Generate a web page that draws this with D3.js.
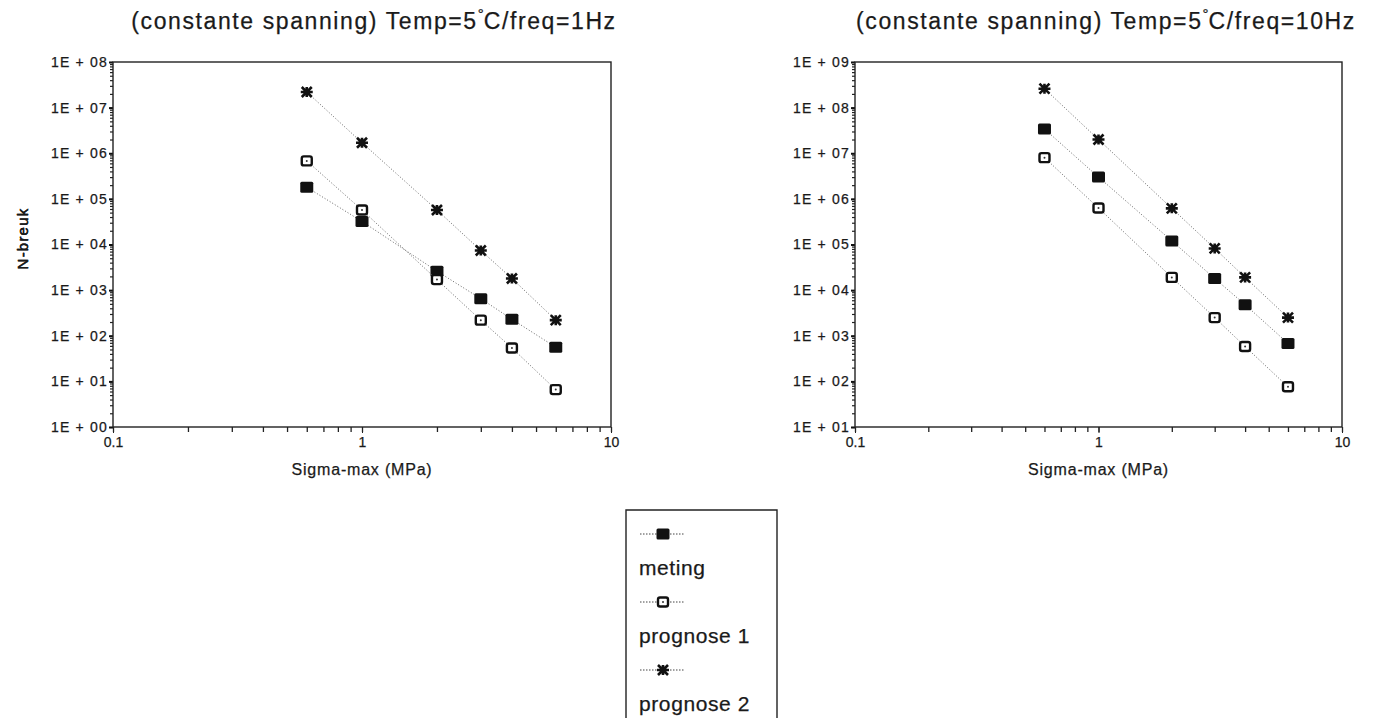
<!DOCTYPE html>
<html>
<head>
<meta charset="utf-8">
<script src="https://cdn.jsdelivr.net/npm/d3@7"></script>
<style>
  body { margin: 0; background: #fff; }
  text { font-family: Arial, "Liberation Sans", sans-serif; fill: #1a1a1a; stroke: #1a1a1a; stroke-width: 0.25; }
</style>
</head>
<body>
<div id="chart"></div>
<script>
var svgWidth = 1378;
var svgHeight = 718;

// sigma-max values (MPa), same for both charts
var sigma = [0.6, 1, 2, 3, 4, 6];

// 5 C / 1 Hz
var meting1Hz = [1.8e5, 3.2e4, 2.6e3, 650, 230, 56];
var prognose1_1Hz = [6.8e5, 5.7e4, 1.7e3, 220, 54, 6.6];
var prognose2_1Hz = [2.2e7, 1.7e6, 5.7e4, 7.4e3, 1.8e3, 220];

// 5 C / 10 Hz
var meting10Hz = [3.4e7, 3.0e6, 1.2e5, 1.8e4, 4.8e3, 680];
var prognose1_10Hz = [8e6, 6.3e5, 1.9e4, 2.5e3, 580, 76];
var prognose2_10Hz = [2.6e8, 2.0e7, 6.2e5, 8.2e4, 1.9e4, 2.5e3];

var seriesNames = ["meting", "prognose 1", "prognose 2"];
var xTickLabels = ["0.1", "1", "10"];

var svg = d3.select("#chart")
    .append("svg")
    .attr("width", svgWidth)
    .attr("height", svgHeight);

// marker drawing
function drawMarker(g, type, cx, cy) {
    if (type == 0) {
        g.append("rect")
            .attr("x", cx - 6.5).attr("y", cy - 5.5)
            .attr("width", 13).attr("height", 11)
            .attr("rx", 1.5)
            .attr("fill", "#111");
    } else if (type == 1) {
        g.append("rect")
            .attr("x", cx - 5).attr("y", cy - 4.5)
            .attr("width", 10).attr("height", 9)
            .attr("rx", 2)
            .attr("fill", "#fff")
            .attr("stroke", "#111")
            .attr("stroke-width", 2.4);
        g.append("circle")
            .attr("cx", cx).attr("cy", cy)
            .attr("r", 1)
            .attr("fill", "#333");
    } else {
        var s = 5;
        g.append("path")
            .attr("d", `M${cx - s},${cy - s}L${cx + s},${cy + s}M${cx - s},${cy + s}L${cx + s},${cy - s}M${cx - s - 1},${cy}L${cx + s + 1},${cy}M${cx},${cy - s}L${cx},${cy + s}`)
            .attr("stroke", "#111")
            .attr("stroke-width", 2.6);
    }
}

function logTicks(lo, hi) {
    var t = [];
    for (var e = Math.round(Math.log10(lo)); e < Math.round(Math.log10(hi)); e++) {
        for (var m = 1; m < 10; m++) t.push(m * Math.pow(10, e));
    }
    t.push(hi);
    return t;
}

function drawChart(cfg) {
    var width = cfg.width;
    var height = cfg.height;

    var g = svg.append("g")
        .attr("transform", `translate(${cfg.left}, ${cfg.top})`);

    var x = d3.scaleLog().domain([0.1, 10]).range([0, width]);
    var y = d3.scaleLog().domain(cfg.yDomain).range([height, 0]);

    // minor ticks
    var xMinor = logTicks(0.1, 10);
    var yMinor = logTicks(cfg.yDomain[0], cfg.yDomain[1]);

    g.append("g")
        .attr("transform", `translate(0, ${height})`)
        .call(d3.axisBottom(x).tickValues(xMinor).tickSize(5).tickFormat(""))
        .call(a => a.select(".domain").remove())
        .selectAll("line").attr("stroke", "#222").attr("stroke-width", 1.3);

    g.append("g")
        .call(d3.axisLeft(y).tickValues(yMinor).tickSize(3).tickFormat(""))
        .call(a => a.select(".domain").remove())
        .selectAll("line").attr("stroke", "#222").attr("stroke-width", 1.2);

    // major ticks + labels
    var xMajor = [0.1, 1, 10];
    g.append("g")
        .attr("transform", `translate(0, ${height})`)
        .call(d3.axisBottom(x).tickValues(xMajor).tickSize(6).tickPadding(4)
            .tickFormat((d, i) => xTickLabels[i]))
        .call(a => a.select(".domain").remove())
        .call(a => a.selectAll("text").attr("font-size", 14).attr("fill", "#1a1a1a"))
        .selectAll("line").attr("stroke", "#222");

    var yMajor = [];
    for (var e = Math.log10(cfg.yDomain[0]); e <= Math.log10(cfg.yDomain[1]); e++) yMajor.push(Math.pow(10, e));
    g.append("g")
        .call(d3.axisLeft(y).tickValues(yMajor).tickSize(4).tickPadding(1)
            .tickFormat(d => "1E + " + d3.format("02d")(Math.round(Math.log10(d)))))
        .call(a => a.select(".domain").remove())
        .call(a => a.selectAll("text").attr("font-size", 14).attr("letter-spacing", 1.2).attr("fill", "#1a1a1a"))
        .selectAll("line").attr("stroke", "#111").attr("stroke-width", 2);

    // frame
    g.append("rect")
        .attr("width", width)
        .attr("height", height)
        .attr("fill", "none")
        .attr("stroke", "#222")
        .attr("stroke-width", 1.4);

    // series
    var line = d3.line()
        .x(d => x(d[0]))
        .y(d => y(d[1]));

    cfg.series.forEach(function (vals, si) {
        var pts = sigma.map((s, i) => [s, vals[i]]);
        g.append("path")
            .datum(pts)
            .attr("d", line)
            .attr("fill", "none")
            .attr("stroke", "#666")
            .attr("stroke-width", 1)
            .attr("stroke-dasharray", "1,2");
        pts.forEach(p => drawMarker(g, si, x(p[0]), y(p[1])));
    });

    // titles
    var title = svg.append("text")
        .attr("x", cfg.titleX)
        .attr("y", 29)
        .attr("text-anchor", "middle")
        .attr("font-size", 23)
        .attr("letter-spacing", 1.6);
    title.append("tspan").text("(constante spanning) Temp=5");
    title.append("tspan").attr("dy", -10).attr("font-size", 15).attr("letter-spacing", 0).text("°");
    title.append("tspan").attr("dy", 10).text("C/freq=" + cfg.freq);

    g.append("text")
        .attr("x", width / 2)
        .attr("y", height + 48)
        .attr("text-anchor", "middle")
        .attr("font-size", 16)
        .attr("letter-spacing", 0.8)
        .text("Sigma-max (MPa)");

    g.append("text")
        .attr("transform", "rotate(-90)")
        .attr("x", -height / 2 + 6)
        .attr("y", -cfg.left + 28)
        .attr("text-anchor", "middle")
        .attr("font-size", 15)
        .attr("letter-spacing", 1.2)
        .text("N-breuk");
}

drawChart({
    left: 113, top: 62, width: 498, height: 365, titleX: 374,
    yDomain: [1, 1e8], freq: "1Hz",
    series: [meting1Hz, prognose1_1Hz, prognose2_1Hz]
});

drawChart({
    left: 855, top: 62, width: 487, height: 365, titleX: 1106,
    yDomain: [10, 1e9], freq: "10Hz",
    series: [meting10Hz, prognose1_10Hz, prognose2_10Hz]
});

// legend
var legend = svg.append("g").attr("transform", "translate(626, 510)");
legend.append("path")
    .attr("d", "M0,212V0H151V212")
    .attr("fill", "none")
    .attr("stroke", "#222")
    .attr("stroke-width", 1.4);

seriesNames.forEach(function (name, i) {
    var yy = 24 + i * 68;
    legend.append("line")
        .attr("x1", 14).attr("x2", 58)
        .attr("y1", yy).attr("y2", yy)
        .attr("stroke", "#444")
        .attr("stroke-dasharray", "1.5,1.5");
    drawMarker(legend, i, 37, yy);
    legend.append("text")
        .attr("x", 13)
        .attr("y", yy + 41)
        .attr("font-size", 21)
        .attr("letter-spacing", 0.6)
        .text(name);
});
</script>
</body>
</html>
